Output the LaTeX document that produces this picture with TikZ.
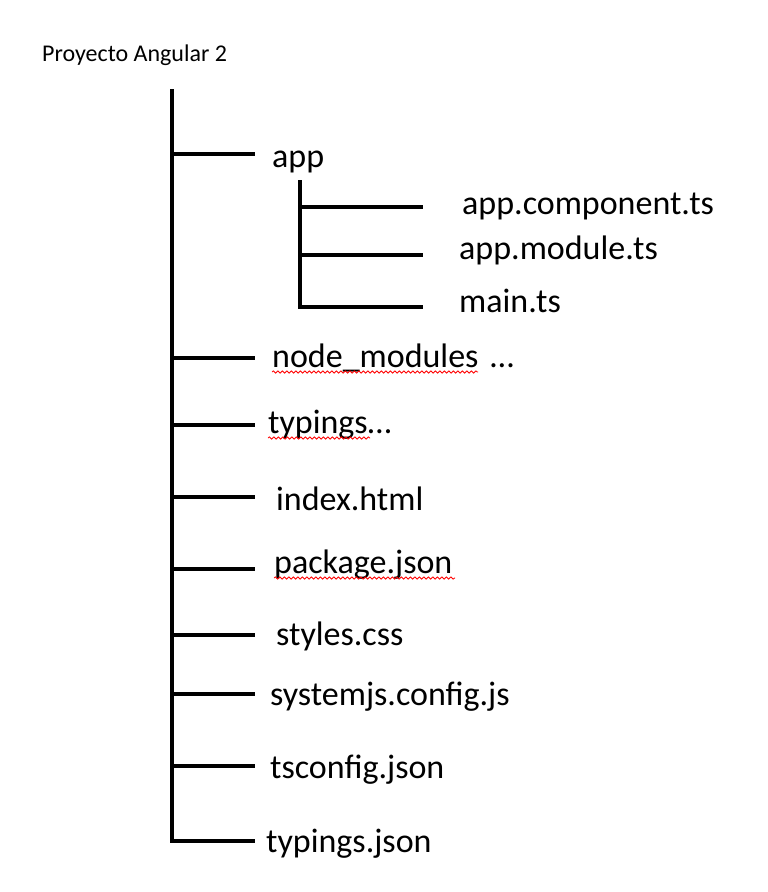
\documentclass[tikz,border=0pt]{standalone}
\usepackage{fontspec}
\setmainfont{Carlito}
\usetikzlibrary{decorations.pathmorphing}
\begin{document}
\begin{tikzpicture}[x=1pt,y=-1pt,
  tree/.style={line width=3.2pt,black},
  label/.style={anchor=base west,inner sep=0pt,font=\fontsize{34}{40}\selectfont},
  squig/.style={red,line width=0.8pt,decorate,decoration={snake,segment length=4.5pt,amplitude=1.1pt}}]
\useasboundingbox[fill=white] (0,0) rectangle (768,892);
\node[anchor=base west,inner sep=0pt,font=\fontsize{24}{28}\selectfont] (title) at (42,61) {Proyecto Angular 2};
% labels
\node[label] (app) at (272,167) {app};
\node[label] (comp) at (462,214) {app.component.ts};
\node[label] (mod) at (459,259) {app.module.ts};
\node[label] (main) at (459,312) {main.ts};
\node[label] (nm) at (272,367) {node\_modules\hspace{12pt}…};
\node[label] (typ) at (268,433) {typings…};
\node[label] (idx) at (276,510) {index.html};
\node[label] (pkg) at (274,573) {package.json};
\node[label] (sty) at (276,645) {styles.css};
\node[label] (sys) at (270,705) {systemjs.config.js};
\node[label] (tsc) at (270,778) {tsconfig.json};
\node[label] (tj) at (266,852) {typings.json};
% trunk coordinates
\coordinate (top) at (172,89);
\coordinate (tApp) at (172,154);
\coordinate (tNm) at (172,358);
\coordinate (tTyp) at (172,425);
\coordinate (tIdx) at (172,497);
\coordinate (tPkg) at (172,569);
\coordinate (tSty) at (172,635);
\coordinate (tSys) at (172,694);
\coordinate (tTsc) at (172,766);
\coordinate (tTj) at (172,841);
\draw[tree] (top) -- (tTj) -- (255,841);
\foreach \c/\y in {tApp/154,tNm/358,tTyp/425,tIdx/497,tPkg/569,tSty/635,tSys/694,tTsc/766}
  \draw[tree] (\c) -- (255,\y);
% sub tree
\coordinate (stop) at (300,180);
\coordinate (sComp) at (300,207);
\coordinate (sMod) at (300,255);
\coordinate (sMain) at (300,307);
\draw[tree] (stop) -- (sMain) -- (423,307);
\draw[tree] (sComp) -- (423,207);
\draw[tree] (sMod) -- (423,255);
% spell-check squiggles
\draw[squig] (272,372) -- (478,372);
\draw[squig] (268,438) -- (370,438);
\draw[squig] (274,578) -- (455,578);
\end{tikzpicture}
\end{document}
